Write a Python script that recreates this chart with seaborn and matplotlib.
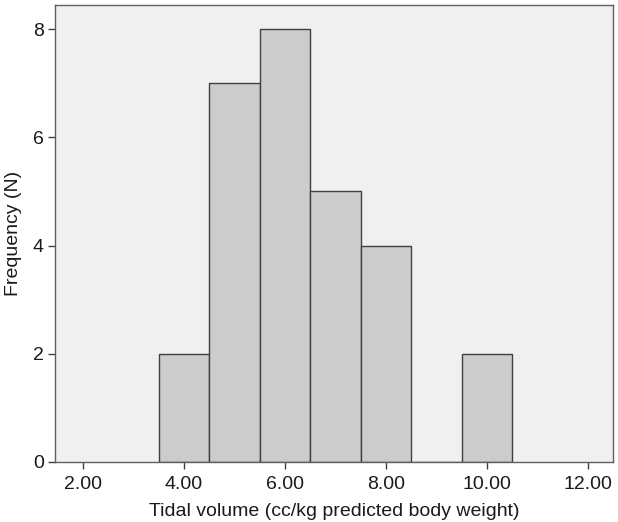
import matplotlib
matplotlib.use("Agg")
import matplotlib.pyplot as plt
import seaborn as sns

bin_centers = [4, 5, 6, 7, 8, 9, 10]
counts = [2, 7, 8, 5, 4, 0, 2]
x_ticks = [2, 4, 6, 8, 10, 12]
x_tick_labels = ["2.00", "4.00", "6.00", "8.00", "10.00", "12.00"]
y_ticks = [0, 2, 4, 6, 8]

sns.set_style("white")
plt.rcParams['font.family'] = ['Liberation Sans', 'DejaVu Sans']

fig = plt.figure(figsize=(6.18, 5.22), dpi=100)
ax = fig.add_axes([0.089, 0.115, 0.903, 0.875])
ax.set_facecolor("#f0f0f0")

sns.histplot(x=bin_centers, weights=counts, binwidth=1, binrange=(3.5, 10.5),
             color="#cccccc", alpha=1, edgecolor="#404040", linewidth=1, ax=ax)

ax.set_xlim(1.45, 12.5)
ax.set_ylim(0, 8.44)
ax.set_xticks(x_ticks)
ax.set_xticklabels(x_tick_labels)
ax.set_yticks(y_ticks)
ax.tick_params(axis='x', pad=5)
ax.tick_params(axis='y', pad=3)
ax.tick_params(axis='both', direction='out', length=5, width=1, color="#404040",
               labelsize=14, labelcolor="#1a1a1a", bottom=True, left=True)
for s in ax.spines.values():
    s.set_color("#606060")
    s.set_linewidth(1)
ax.set_xlabel("Tidal volume (cc/kg predicted body weight)", fontsize=14, color="#1a1a1a", labelpad=7)
ax.set_ylabel("Frequency (N)", fontsize=14, color="#1a1a1a", labelpad=8)

fig.savefig("out.png", dpi=100)
